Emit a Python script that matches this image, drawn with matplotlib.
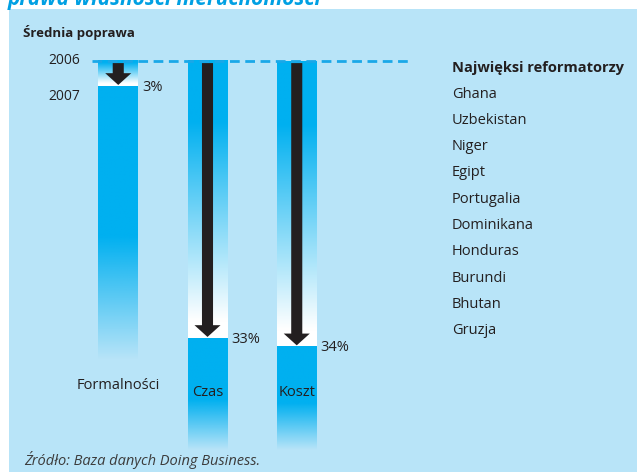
import matplotlib
matplotlib.use("Agg")
import matplotlib.pyplot as plt
import numpy as np
from matplotlib.patches import Rectangle
from matplotlib.colors import to_rgb

# data
categories = ["Formalności", "Czas", "Koszt"]
improvement = [3, 33, 34]          # średnia poprawa 2006 -> 2007, %
years = ["2006", "2007"]
reformers = ["Ghana", "Uzbekistan", "Niger", "Egipt", "Portugalia",
             "Dominikana", "Honduras", "Burundi", "Bhutan", "Gruzja"]

BLUE = "#00b0f0"
BG = "#b8e4f8"
DARK = "#231f20"
FONT = ["Open Sans", "DejaVu Sans"]

W, H = 637, 472
fig = plt.figure(figsize=(W / 100, H / 100), dpi=100, facecolor="white")
plt.rcParams["font.family"] = FONT


def fx(px):
    return px / W


def fy(py):
    return 1 - py / H


# light blue panel
fig.patches.append(Rectangle((fx(9), 0), 1 - fx(9), fy(9), transform=fig.transFigure,
                             facecolor=BG, edgecolor="none", zorder=-5))

# cut-off title at the very top
fig.text(fx(8), fy(5), "prawa własności nieruchomości", fontsize=15, fontweight="bold",
         style="italic", color="#00a0e3", va="baseline", ha="left")

ax = fig.add_axes([0, 0, 1, 1], zorder=2)
ax.set_facecolor("none")
ax.axis("off")

x = np.arange(len(categories))
bw = 0.443
fade_end = [35.6, 46.3, 46.3]
blue = np.array(to_rgb(BLUE))
white = np.ones(3)

for i, (c, v) in enumerate(zip(x, improvement)):
    # upper part: blue fading to white down to the 2007 level
    t = np.linspace(0, 1, 200)[:, None]
    f = np.clip((t - 0.22) / 0.72, 0, 1)
    if v < 10:
        f = np.clip((t - 0.1) / 0.8, 0, 1)
    rgb = blue * (1 - f) + white * f
    img = np.concatenate([rgb, np.ones((200, 1))], axis=1)[:, None, :]
    ax.imshow(img, extent=(c - bw / 2, c + bw / 2, v, 0), origin="upper",
              aspect="auto", interpolation="bilinear", zorder=2)
    # lower part: solid blue fading out into the panel
    a = 1 - np.clip((t - 0.55) / 0.45, 0, 1)
    img2 = np.concatenate([np.tile(blue, (200, 1)), a], axis=1)[:, None, :]
    ax.imshow(img2, extent=(c - bw / 2, c + bw / 2, fade_end[i], v), origin="upper",
              aspect="auto", interpolation="bilinear", zorder=2)

    # arrow
    sw, hw, hl = 0.062, 0.146, 1.4
    y0, tip = 0.25, v - 0.15
    ax.fill([c - sw, c + sw, c + sw, c + hw, c, c - hw, c - sw],
            [y0, y0, tip - hl, tip - hl, tip, tip - hl, tip - hl],
            color=DARK, lw=0, zorder=4)

    ax.text(c + bw / 2 + 0.045, v + 0.1, f"{v}%", fontsize=10.5, color=DARK,
            ha="left", va="center", zorder=5)

# category labels
ax.text(x[0], 38.6, categories[0], fontsize=10.5, color=DARK, ha="center", va="center")
for c, name in zip(x[1:], categories[1:]):
    ax.text(c, 39.5, name, fontsize=10.5, color=DARK, ha="center", va="center", zorder=5)

# 2006 baseline
ax.plot([-0.294, 3.27], [0, 0], color="#1aa8e8", lw=2, ls=(0, (3.5, 2)), zorder=3)

ax.set_xlim(-118.25 / 89.25, (W - 118.25) / 89.25)
ax.set_ylim((H - 61) / 8.4, -61 / 8.4)

# texts
fig.text(fx(23), fy(33), "Średnia poprawa", fontsize=9.5, fontweight="bold",
         color=DARK, ha="left", va="center")
fig.text(fx(80), fy(61), years[0], fontsize=10, color=DARK, ha="right", va="center")
fig.text(fx(80), fy(97), years[1], fontsize=10, color=DARK, ha="right", va="center")

fig.text(fx(452), fy(68), "Najwięksi reformatorzy", fontsize=10.5, fontweight="bold",
         color=DARK, ha="left", va="center")
for k, name in enumerate(reformers):
    fig.text(fx(452), fy(94 + 26.3 * k), name, fontsize=10.5, color=DARK,
             ha="left", va="center")

fig.text(fx(24), fy(460), "Źródło: Baza danych Doing Business.", fontsize=10.5,
         style="italic", color="#3c3c3c", ha="left", va="center")

fig.savefig("out.png", dpi=100, facecolor="white")
